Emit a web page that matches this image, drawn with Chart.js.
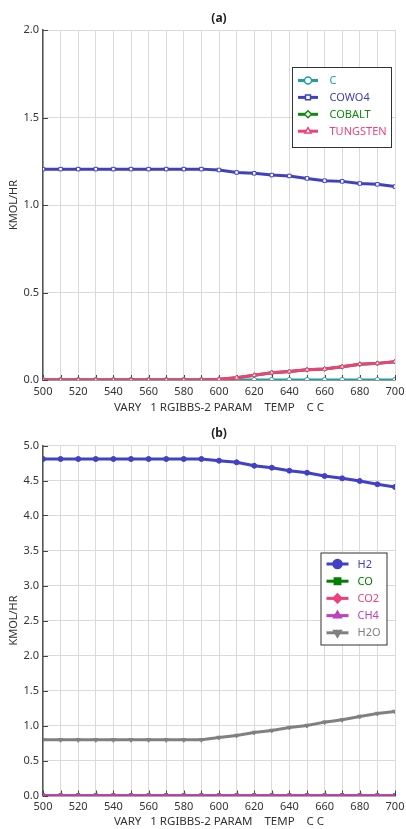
<!DOCTYPE html>
<html>
<head>
<meta charset="utf-8">
<script src="https://cdn.jsdelivr.net/npm/chart.js@4.4.0/dist/chart.umd.min.js"></script>
<style>
  html, body { margin: 0; padding: 0; background: #fff; }
  .panel { position: relative; width: 406px; }
  #panelA { height: 415px; }
  #panelB { height: 414px; }
</style>
</head>
<body>
<div class="panel" id="panelA"><canvas id="chartA"></canvas></div>
<div class="panel" id="panelB"><canvas id="chartB"></canvas></div>
<script>
// x values (temperature, C)
const temps = [500, 510, 520, 530, 540, 550, 560, 570, 580, 590, 600,
  610, 620, 630, 640, 650, 660, 670, 680, 690, 700];
const xTickLabels = [500, 520, 540, 560, 580, 600, 620, 640, 660, 680, 700];
const yTicksA = [0, 0.5, 1.0, 1.5, 2.0];
const yTicksB = [0, 0.5, 1.0, 1.5, 2.0, 2.5, 3.0, 3.5, 4.0, 4.5, 5.0];

// (a) solids
const carbon = [0, 0, 0, 0, 0, 0, 0, 0, 0, 0, 0, 0, 0, 0, 0, 0, 0, 0, 0, 0, 0];
const cowo4 = [1.205, 1.205, 1.205, 1.205, 1.205, 1.205, 1.205, 1.205, 1.205, 1.205,
  1.200, 1.186, 1.181, 1.171, 1.166, 1.152, 1.139, 1.135, 1.123, 1.118, 1.105];
const cobalt = [0, 0, 0, 0, 0, 0, 0, 0, 0, 0,
  0.004, 0.013, 0.027, 0.042, 0.048, 0.059, 0.063, 0.076, 0.090, 0.095, 0.105];
const tungsten = [0, 0, 0, 0, 0, 0, 0, 0, 0, 0,
  0.004, 0.013, 0.027, 0.042, 0.048, 0.059, 0.063, 0.076, 0.090, 0.095, 0.105];

// (b) gases
const h2 = [4.807, 4.807, 4.807, 4.807, 4.807, 4.807, 4.807, 4.807, 4.807, 4.807,
  4.783, 4.760, 4.711, 4.683, 4.640, 4.611, 4.564, 4.531, 4.493, 4.446, 4.407];
const co = [0, 0, 0, 0, 0, 0, 0, 0, 0, 0, 0, 0, 0, 0, 0, 0, 0, 0, 0, 0, 0];
const co2 = [0, 0, 0, 0, 0, 0, 0, 0, 0, 0, 0, 0, 0, 0, 0, 0, 0, 0, 0, 0, 0];
const ch4 = [0, 0, 0, 0, 0, 0, 0, 0, 0, 0, 0, 0, 0, 0, 0, 0, 0, 0, 0, 0, 0];
const h2o = [0.795, 0.795, 0.795, 0.795, 0.795, 0.795, 0.795, 0.795, 0.795, 0.795,
  0.829, 0.857, 0.900, 0.929, 0.971, 1.000, 1.048, 1.081, 1.129, 1.171, 1.200];

const FONT = "'Noto Sans', sans-serif";
const xTitle = "VARY   1 RGIBBS-2 PARAM    TEMP    C C";

function toPoints(values) {
  return temps.map(function (t, i) {
    return { x: t, y: values[i] };
  });
}

// title, inward tick marks and a boxed legend inside the plot
const panelDecor = {
  id: "panelDecor",
  beforeDatasetsDraw(chart, args, opts) {
    const ctx = chart.ctx;
    const { left, bottom } = chart.chartArea;
    const xs = chart.scales.x;
    const ys = chart.scales.y;
    ctx.save();
    ctx.strokeStyle = "#444";
    ctx.lineWidth = 1;
    ctx.beginPath();
    opts.yTicks.forEach(function (v) {
      const py = Math.round(ys.getPixelForValue(v)) + 0.5;
      ctx.moveTo(left, py);
      ctx.lineTo(left + 5, py);
    });
    temps.forEach(function (t) {
      const px = Math.round(xs.getPixelForValue(t)) + 0.5;
      ctx.moveTo(px, bottom);
      ctx.lineTo(px, bottom - 5);
    });
    ctx.stroke();
    ctx.restore();
  },
  afterDraw(chart, args, opts) {
    const ctx = chart.ctx;
    const area = chart.chartArea;
    ctx.save();
    ctx.fillStyle = "#222";
    ctx.font = "bold 12px " + FONT;
    ctx.textAlign = "center";
    ctx.textBaseline = "middle";
    ctx.fillText(opts.title, (area.left + area.right) / 2, 19);

    const lg = opts.legend;
    ctx.fillStyle = "#fff";
    ctx.fillRect(lg.x, lg.y, lg.w, lg.h);
    ctx.strokeStyle = "#333";
    ctx.lineWidth = 1;
    ctx.strokeRect(lg.x + 0.5, lg.y + 0.5, lg.w, lg.h);

    ctx.font = "11px " + FONT;
    ctx.textAlign = "left";
    chart.data.datasets.forEach(function (ds, i) {
      const y = lg.firstY + i * lg.rowH;
      ctx.strokeStyle = ds.borderColor;
      ctx.lineWidth = 3;
      ctx.beginPath();
      ctx.moveTo(lg.sampleX, y);
      ctx.lineTo(lg.sampleX + lg.sampleW, y);
      ctx.stroke();
      ctx.fillStyle = lg.hollow ? "#fff" : ds.borderColor;
      ctx.strokeStyle = ds.borderColor;
      ctx.lineWidth = 1.5;
      Chart.helpers.drawPoint(ctx, {
        pointStyle: ds.pointStyle,
        rotation: ds.pointRotation || 0,
        radius: lg.markerR,
        borderWidth: 1.5,
      }, lg.sampleX + lg.sampleW / 2, y);
      ctx.fillStyle = ds.borderColor;
      ctx.fillText(ds.label, lg.textX, y + 0.5);
    });
    ctx.restore();
  },
};

function buildOptions(yMax, yTicks, padTop, xHeight, decor) {
  return {
    responsive: true,
    maintainAspectRatio: false,
    animation: false,
    devicePixelRatio: 1,
    layout: { padding: { top: padTop, right: 11, left: 0, bottom: 0 } },
    plugins: {
      legend: { display: false },
      tooltip: { enabled: false },
      panelDecor: decor,
    },
    scales: {
      x: {
        type: "linear",
        min: 500,
        max: 700,
        afterBuildTicks: function (scale) {
          scale.ticks = temps.map(function (t) { return { value: t }; });
        },
        afterFit: function (scale) {
          scale.height = xHeight;
          scale.paddingLeft = 0;
          scale.paddingRight = 0;
        },
        ticks: {
          autoSkip: false,
          maxRotation: 0,
          padding: 5,
          color: "#333",
          font: { family: FONT, size: 11 },
          callback: function (value) {
            return xTickLabels.includes(value) ? String(value) : "";
          },
        },
        grid: { color: "#dadada", lineWidth: 1, drawTicks: false },
        border: { color: "#555", width: 1.5 },
        title: {
          display: true,
          text: xTitle,
          color: "#333",
          font: { family: FONT, size: 11.5 },
          padding: { top: 0, bottom: 0 },
        },
      },
      y: {
        min: 0,
        max: yMax,
        afterBuildTicks: function (scale) {
          scale.ticks = yTicks.map(function (v) { return { value: v }; });
        },
        afterFit: function (scale) { scale.width = 43; },
        ticks: {
          padding: 4,
          color: "#333",
          font: { family: FONT, size: 11 },
          callback: function (value) { return Number(value).toFixed(1); },
        },
        grid: { color: "#dadada", lineWidth: 1, drawTicks: false },
        border: { color: "#555", width: 1.5 },
        title: {
          display: true,
          text: "KMOL/HR",
          color: "#333",
          font: { family: FONT, size: 11 },
          padding: { top: 7, bottom: 0 },
        },
      },
    },
  };
}

function series(label, values, color, style, order, hollow, rotation) {
  return {
    label: label,
    data: toPoints(values),
    borderColor: color,
    backgroundColor: color,
    borderWidth: 3,
    pointStyle: style,
    pointRotation: rotation || 0,
    pointRadius: 2.5,
    pointBorderWidth: 1,
    pointBorderColor: color,
    pointBackgroundColor: hollow ? "#fff" : color,
    tension: 0,
    order: order,
  };
}

new Chart(document.getElementById("chartA"), {
  type: "line",
  data: {
    datasets: [
      series("C", carbon, "#20a0a0", "circle", 4, true),
      series("COWO4", cowo4, "#4040c0", "rect", 3, true),
      series("COBALT", cobalt, "#108a10", "rectRot", 2, true),
      series("TUNGSTEN", tungsten, "#f0407a", "triangle", 1, true),
    ],
  },
  options: buildOptions(2.0, yTicksA, 30, 35, {
    title: "(a)",
    yTicks: yTicksA,
    legend: {
      x: 292, y: 67, w: 99, h: 80,
      firstY: 80.5, rowH: 16.9,
      sampleX: 298, sampleW: 20, textX: 329.5,
      markerR: 3.5, hollow: true,
    },
  }),
  plugins: [panelDecor],
});

new Chart(document.getElementById("chartB"), {
  type: "line",
  data: {
    datasets: [
      series("H2", h2, "#4040c8", "circle", 5, false),
      series("CO", co, "#008000", "rect", 4, false),
      series("CO2", co2, "#f0407a", "rectRot", 3, false),
      series("CH4", ch4, "#c040c0", "triangle", 2, false),
      series("H2O", h2o, "#808080", "triangle", 1, false, 180),
    ],
  },
  options: buildOptions(5.0, yTicksB, 30.5, 33.5, {
    title: "(b)",
    yTicks: yTicksB,
    legend: {
      x: 320.5, y: 137.5, w: 66, h: 92,
      firstY: 149, rowH: 17.2,
      sampleX: 326.5, sampleW: 22, textX: 357.5,
      markerR: 4.5, hollow: false,
    },
  }),
  plugins: [panelDecor],
});
</script>
</body>
</html>
